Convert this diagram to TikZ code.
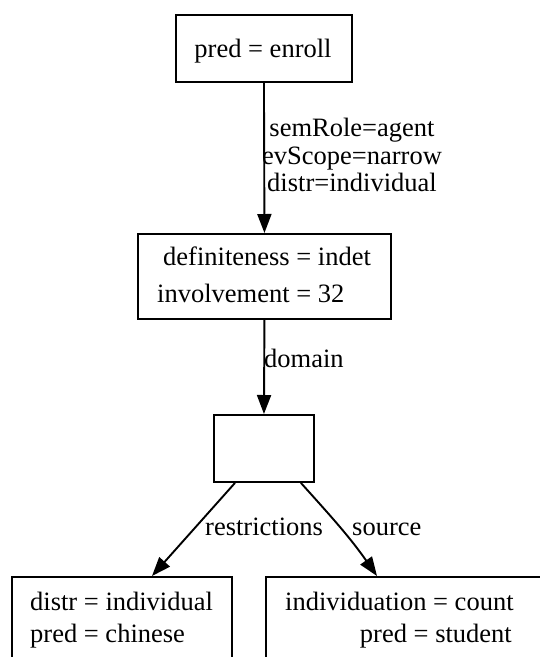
\documentclass[tikz,border=0pt]{standalone}
\usepackage{fontspec}
\setmainfont{Liberation Serif}
\usetikzlibrary{arrows.meta,calc}
\begin{document}
\begin{tikzpicture}[x=1pt,y=-1pt,
  lw/.style={line width=1.9pt},
  box/.style={draw,lw,inner sep=0pt,anchor=north west},
  txt/.style={inner sep=0pt,font=\fontsize{26.5}{30}\selectfont},
  link/.style={lw,-{Triangle[length=19pt,width=14pt]}}]
\useasboundingbox (0,0) rectangle (540,657);
\clip (0,0) rectangle (540,657);

% boxes
\node[box,minimum width=176pt,minimum height=67pt] (enroll) at (175,14) {};
\node[box,minimum width=253pt,minimum height=85pt] (agent) at (137,233) {};
\node[box,minimum width=100pt,minimum height=67pt] (dom) at (213,414) {};
\node[box,minimum width=220pt,minimum height=86pt] (restr) at (11,576) {};
\node[box,minimum width=300pt,minimum height=86pt] (src) at (265,576) {};

% box contents
\node[txt,anchor=base] (enrollT) at (263,57) {pred = enroll};
\node[txt,anchor=base west] (agentA) at (163,265) {definiteness = indet};
\node[txt,anchor=base west] (agentB) at (157,302) {involvement = 32};
\node[txt,anchor=base west] (restrA) at (30,610) {distr = individual};
\node[txt,anchor=base west] (restrB) at (30,642) {pred = chinese};
\node[txt,anchor=base west] (srcA) at (285,610) {individuation = count};
\node[txt,anchor=base east] (srcB) at (512,642) {pred = student};

% connectors
\coordinate (dL) at ($(dom.south west)+(22,0)$);
\coordinate (dR) at ($(dom.south east)+(-14,0)$);
\coordinate (rT) at ($(restr.north west)+(141,0)$);
\coordinate (sT) at ($(src.north west)+(112,0)$);
\draw[link] (enroll.south) -- (agent.north);
\draw[link] (agent.south) -- (dom.north);
\draw[link] (dL) -- (rT);
\draw[link] (dR) to[out=-48,in=125] (sT);

% connector labels
\node[txt,anchor=base] (labA) at (352,136.5) {semRole=agent};
\node[txt,anchor=base] (labB) at (352,164) {evScope=narrow};
\node[txt,anchor=base] (labC) at (352,191.5) {distr=individual};
\node[txt,anchor=base west] (labD) at (264,367) {domain};
\node[txt,anchor=base west] (labE) at (205,535) {restrictions};
\node[txt,anchor=base west] (labF) at (352,535) {source};
\end{tikzpicture}
\end{document}
